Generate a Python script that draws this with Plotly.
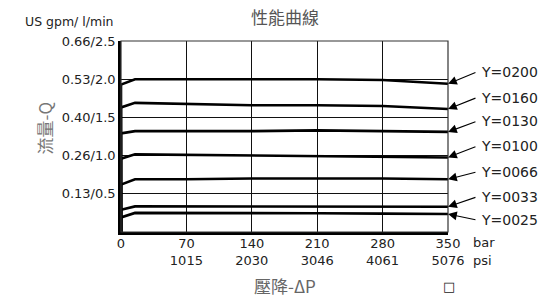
import plotly.graph_objects as go

# ---- data ----
pressure_bar = [0, 0, 15, 70, 140, 210, 280, 350]
series_names = ["Y=0200", "Y=0160", "Y=0130", "Y=0100", "Y=0066", "Y=0033", "Y=0025"]
flow_0200 = [0, 1.93, 2.00, 2.00, 2.00, 2.00, 1.99, 1.94]
flow_0160 = [0, 1.63, 1.69, 1.68, 1.66, 1.66, 1.65, 1.61]
flow_0130 = [0, 1.29, 1.32, 1.32, 1.32, 1.33, 1.32, 1.31]
flow_0100 = [0, 0.96, 1.016, 1.01, 1.00, 0.99, 0.985, 0.976]
flow_0066 = [0, 0.62, 0.69, 0.69, 0.70, 0.70, 0.70, 0.69]
flow_0033 = [0, 0.29, 0.335, 0.335, 0.33, 0.33, 0.33, 0.33]
flow_0025 = [0, 0.19, 0.25, 0.25, 0.245, 0.245, 0.24, 0.235]
all_flows = [flow_0200, flow_0160, flow_0130, flow_0100, flow_0066, flow_0033, flow_0025]

x_tickvals = [0, 70, 140, 210, 280, 350]
x_ticktext = ["0", "70<br>1015", "140<br>2030", "210<br>3046", "280<br>4061", "350<br>5076"]
y_tickvals = [0.5, 1.0, 1.5, 2.0, 2.5]
y_ticktext = ["0.13/0.5", "0.26/1.0", "0.40/1.5", "0.53/2.0", "0.66/2.5"]

# layout-only: label vertical positions (in axis units)
label_y = [2.095, 1.76, 1.45, 1.124, 0.788, 0.46, 0.157]

FONT = "DejaVu Sans, sans-serif"
CJK = "Noto Sans CJK TC, Noto Sans CJK SC, sans-serif"

fig = go.Figure()
for name, ys in zip(series_names, all_flows):
    fig.add_trace(go.Scatter(x=pressure_bar, y=ys, mode="lines", name=name,
                             line=dict(color="#000", width=2.6), showlegend=False,
                             hoverinfo="skip"))

ann = []
for name, ys, ly in zip(series_names, all_flows, label_y):
    ann.append(dict(x=350, y=ys[-1], xref="x", yref="y", ax=381, ay=ly,
                    axref="x", ayref="y", text="", showarrow=True,
                    arrowhead=2, arrowsize=1.6, arrowwidth=1.1, arrowcolor="#000",
                    standoff=0))
    ann.append(dict(x=350, y=ly, xref="x", yref="y", text=name, showarrow=False,
                    xanchor="left", yanchor="middle", xshift=31,
                    font=dict(family=FONT, size=14, color="#222")))

ann += [
    dict(x=0.5, y=1, xref="paper", yref="paper", text="性能曲線", showarrow=False,
         xanchor="center", yanchor="bottom", yshift=10, xshift=0,
         font=dict(family=CJK, size=17, color="#555")),
    dict(x=0, y=1, xref="paper", yref="paper", text="US gpm/ l/min", showarrow=False,
         xanchor="right", yanchor="bottom", xshift=-5, yshift=10,
         font=dict(family=FONT, size=12.5, color="#222")),
    dict(x=0, y=0.5, xref="paper", yref="paper", text="流量-Q", showarrow=False,
         textangle=-90, xanchor="center", yanchor="middle", xshift=-77, yshift=8,
         font=dict(family=CJK, size=17, color="#777")),
    dict(x=0.5, y=0, xref="paper", yref="paper", text="壓降-ΔP", showarrow=False,
         xanchor="center", yanchor="middle", xshift=0, yshift=-53,
         font=dict(family=CJK, size=17, color="#666")),
    dict(x=350, y=0, xref="x", yref="y", text="bar", showarrow=False,
         xanchor="left", yanchor="middle", xshift=23, yshift=-10,
         font=dict(family=FONT, size=13, color="#222")),
    dict(x=350, y=0, xref="x", yref="y", text="psi", showarrow=False,
         xanchor="left", yanchor="middle", xshift=23, yshift=-28,
         font=dict(family=FONT, size=13, color="#222")),
    dict(x=350, y=0, xref="x", yref="y", text="□", showarrow=False,
         xanchor="center", yanchor="middle", xshift=1, yshift=-54,
         font=dict(family=FONT, size=13, color="#222")),
]

fig.update_layout(
    width=550, height=301,
    margin=dict(l=121, r=102, t=41, b=69),
    paper_bgcolor="white", plot_bgcolor="white",
    annotations=ann,
    shapes=[dict(type="rect", xref="paper", yref="paper", x0=0, y0=0, x1=1, y1=1,
                 line=dict(color="#333", width=1.2), layer="above")],
    xaxis=dict(range=[0, 350], tickvals=x_tickvals, ticktext=x_ticktext,
               showgrid=True, gridcolor="#111", gridwidth=1.4, zeroline=False,
               showline=True, linecolor="#000", linewidth=2.5, ticks="",
               ticklabelstandoff=-2,
               tickfont=dict(family=FONT, size=13, color="#222"), fixedrange=True),
    yaxis=dict(range=[0, 2.5], tickvals=y_tickvals, ticktext=y_ticktext,
               showgrid=True, gridcolor="#111", gridwidth=1.4, zeroline=False,
               showline=True, linecolor="#000", linewidth=2.5, ticks="",
               tickfont=dict(family=FONT, size=13, color="#222"), fixedrange=True),
)

fig.write_html("out.html")
